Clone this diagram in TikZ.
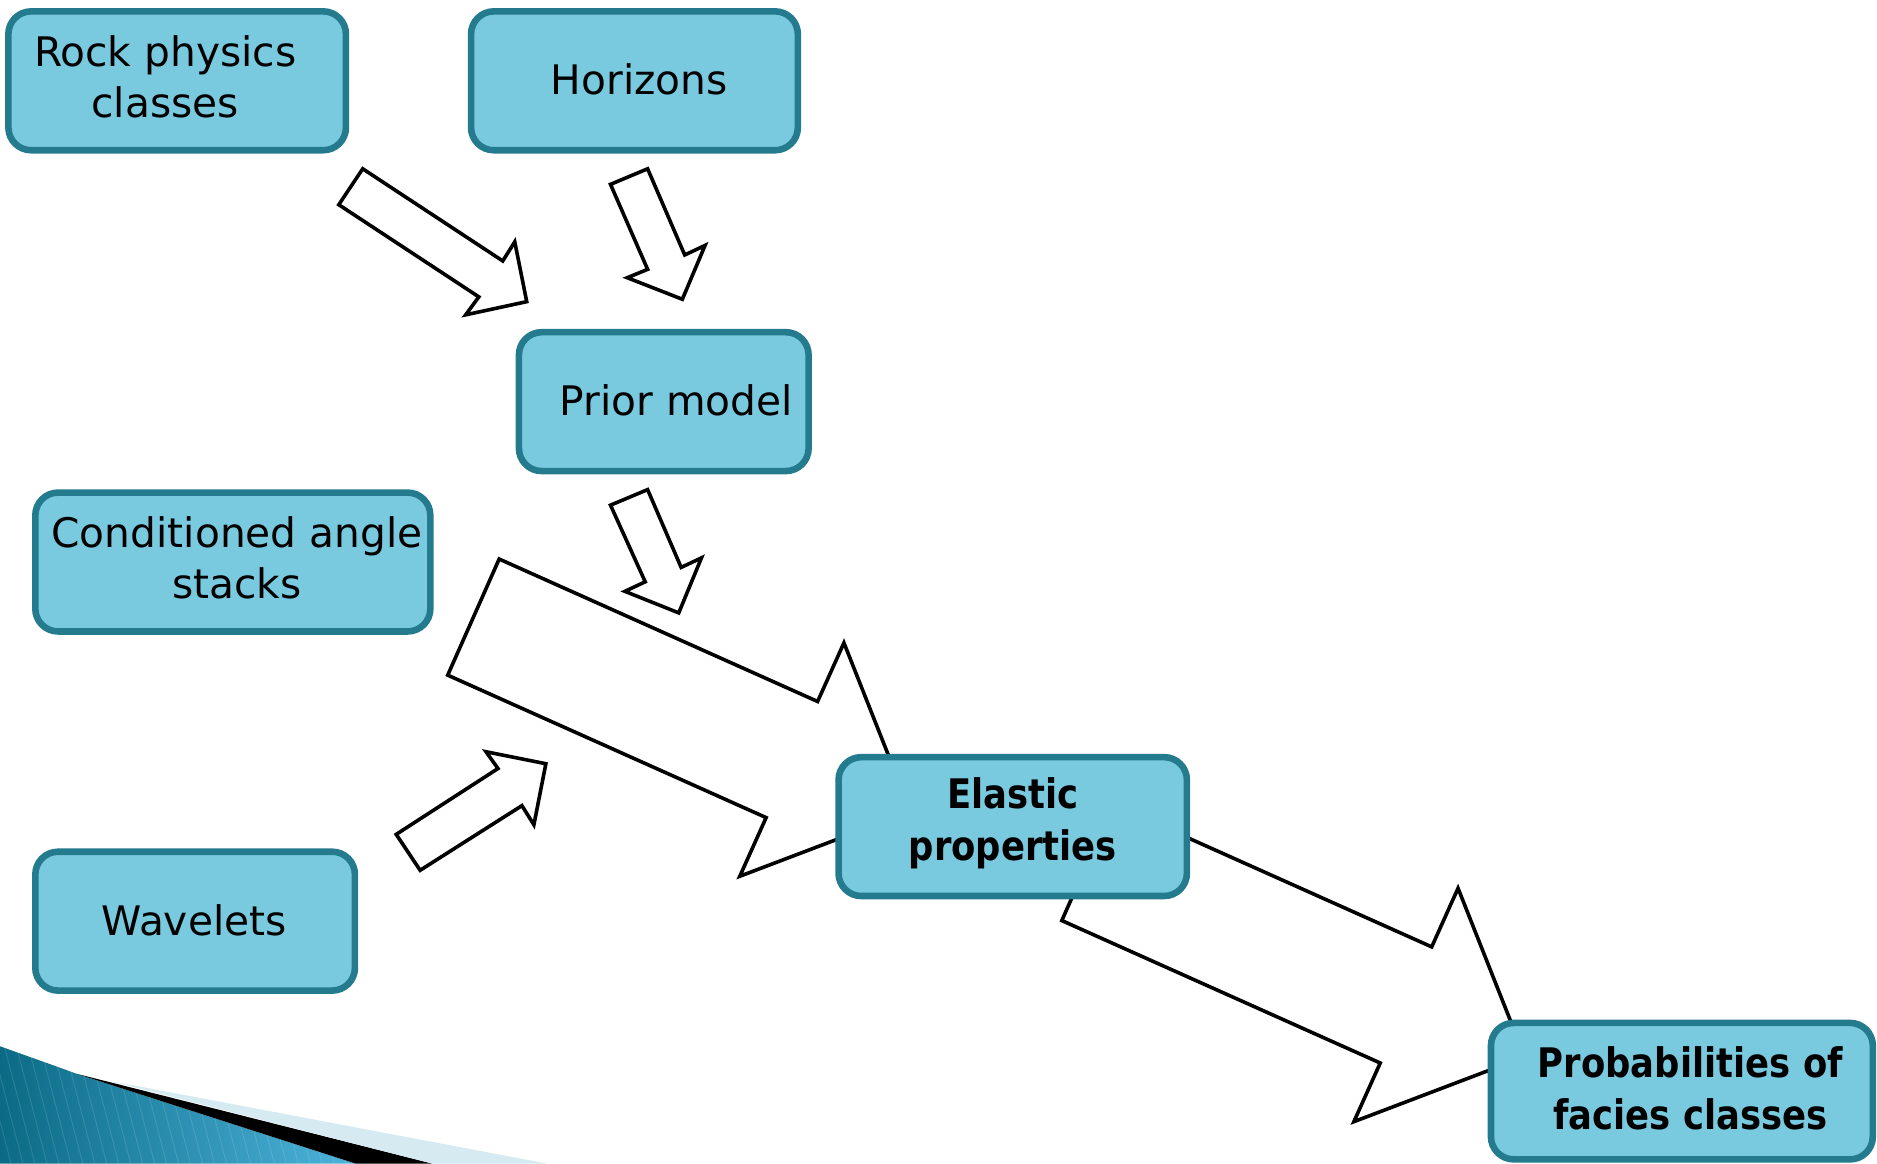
\documentclass[tikz,border=0pt]{standalone}
\usepackage{fontspec}
\setmainfont{DejaVu Sans}
\newfontfamily\condfont{DejaVu Sans}[FakeStretch=0.87]
\definecolor{boxfill}{HTML}{7ACADF}
\definecolor{boxline}{HTML}{237B8D}
\definecolor{swdark}{HTML}{0B6B86}
\definecolor{swlight}{HTML}{4DB3DB}
\definecolor{swpale}{HTML}{D6EAF2}
\begin{document}
\begin{tikzpicture}[x=1pt,y=-1pt,
  box/.style={draw=boxline,fill=boxfill,line width=5.5pt,rounded corners=19pt,inner sep=0pt},
  lbl/.style={font=\fontsize{34}{42.5}\selectfont,align=center,inner sep=0pt},
  lblb/.style={font=\fontsize{34}{43.5}\selectfont\condfont\bfseries,align=center,inner sep=0pt},
  blockarrow/.style={draw=black,fill=white,line width=3pt,line join=miter}]
\useasboundingbox (0,0) rectangle (1568,972);

% bottom-left swoosh
\shade[left color=swdark,right color=swlight] (0,874) .. controls (25,883) and (45,890) .. (64,897) -- (297,972) -- (0,972) -- cycle;
\begin{scope}
  \clip (0,874) .. controls (25,883) and (45,890) .. (64,897) -- (297,972) -- (0,972) -- cycle;
  \foreach \i in {-40,-30,...,320} \draw[white,opacity=0.12,line width=0.8pt] (\i,860) -- (\i+30,975);
\end{scope}
\fill[black] (64,897) -- (361,972) -- (297,972) -- cycle;
\fill[swpale] (92,903) -- (457,972) -- (361,972) -- cycle;

% big block arrows (behind boxes)
\draw[blockarrow] (417,467) -- (683,586) -- (705,537) -- (760.7,677.8) -- (618,732) -- (640,683) -- (374,564) -- cycle;
\draw[blockarrow] (930,672) -- (1196,791) -- (1218,742) -- (1273.7,882.8) -- (1131,937) -- (1153,888) -- (887,769) -- cycle;

% small block arrows
\draw[blockarrow] (303,141) -- (420,218) -- (430,202) -- (440,252) -- (389,263) -- (400,248) -- (283,171) -- cycle;
\draw[blockarrow] (510,154) -- (541,141) -- (572,213) -- (589,205) -- (570,250) -- (524,232) -- (541,225) -- cycle;
\draw[blockarrow] (510,422) -- (541,409) -- (569,474) -- (586,466) -- (567,512) -- (522,494) -- (539,486) -- cycle;
\draw[blockarrow] (331,697) -- (416,642) -- (406,628) -- (456,638) -- (446,689) -- (436,673) -- (351,727) -- cycle;

% boxes
\node[box,minimum width=282pt,minimum height=116pt] (rock) at (148,67.5) {};
\node[box,minimum width=273pt,minimum height=116pt] (hor) at (530,67.5) {};
\node[box,minimum width=242pt,minimum height=116pt] (prior) at (554.5,335.5) {};
\node[box,minimum width=330pt,minimum height=116pt] (cond) at (194.5,469.5) {};
\node[box,minimum width=267pt,minimum height=116pt] (wave) at (163,769.5) {};
\node[box,minimum width=291pt,minimum height=116pt] (elastic) at (846,690.5) {};
\node[box,minimum width=319pt,minimum height=114pt] (prob) at (1405,911.5) {};

% texts
\node[lbl] (rockT) at (138,64) {Rock physics\\classes};
\node[lbl] (horT) at (534,66) {Horizons};
\node[lbl] (priorT) at (565,334) {Prior model};
\node[lbl] (condT) at (198,466) {Conditioned angle\\stacks};
\node[lbl] (waveT) at (162,769) {Wavelets};
\node[lblb] (elasticT) at (846,688) {Elastic\\properties};
\node[lblb] (probT) at (1412,909) {Probabilities of\\facies classes};
\end{tikzpicture}
\end{document}
